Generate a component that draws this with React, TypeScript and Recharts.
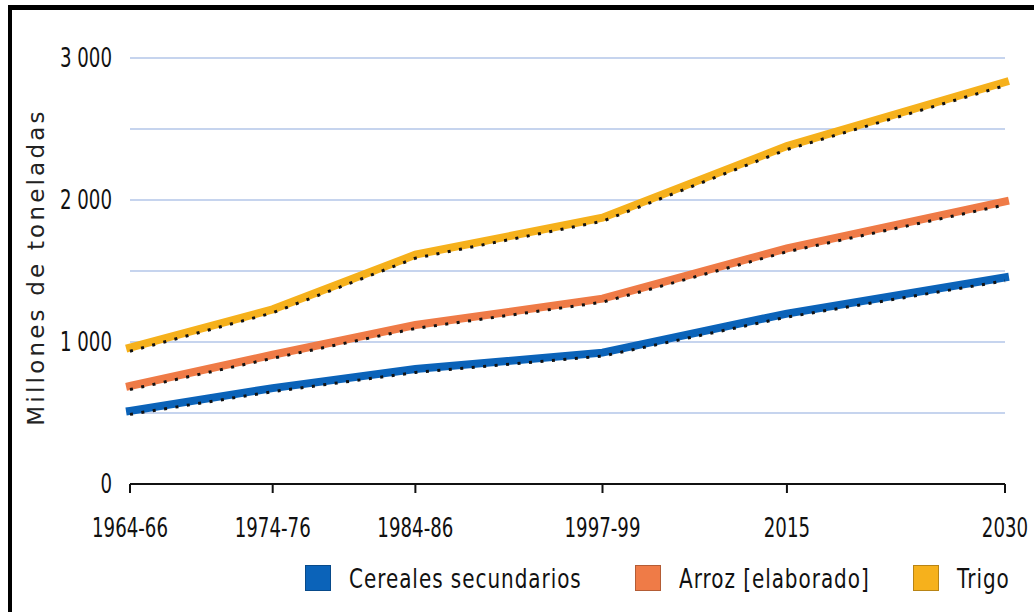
import React from 'react';
import { LineChart, Line, XAxis, YAxis, CartesianGrid } from 'recharts';

// periods shown on the x axis and where they sit along it (the source chart spaces them unevenly)
const periods = ['1964-66', '1974-76', '1984-86', '1997-99', '2015', '2030'];
const periodPosition = [0, 10.6, 21.2, 35.1, 48.8, 65];

// millones de toneladas
const cerealesSecundarios = [515, 675, 810, 925, 1200, 1455];
const arroz = [690, 910, 1120, 1305, 1660, 1990];
const trigo = [960, 1230, 1615, 1875, 2380, 2830];

const yTicks = [0, 500, 1000, 1500, 2000, 2500, 3000];

const series = [
  { key: 'cereales', name: 'Cereales secundarios', color: '#0b63b9', values: cerealesSecundarios },
  { key: 'arroz', name: 'Arroz [elaborado]', color: '#ef7b47', values: arroz },
  { key: 'trigo', name: 'Trigo', color: '#f6b11c', values: trigo },
];

// left edge of each legend entry
const legendLeft = [305, 635, 913];

const data = periods.map((p, i) => {
  const row: Record<string, number | string> = { period: p, pos: periodPosition[i] };
  series.forEach(s => { row[s.key] = s.values[i]; });
  return row;
});

const font = '"DejaVu Sans", sans-serif';

const formatY = (v: number) => (v % 1000 === 0 ? (v === 0 ? '0' : `${v / 1000} 000`) : '');
const formatX = (v: number) => periods[periodPosition.indexOf(v)] ?? '';

// the original uses a condensed face, so squeeze the text horizontally
const XTick = (props: any) => {
  const { x, y, payload } = props;
  return (
    <g transform={`translate(${x},${y})`}>
      <text transform="scale(0.7,1)" textAnchor="middle" dy="0.75em" fill="#111" fontSize={26} fontFamily={font}>
        {formatX(payload.value)}
      </text>
    </g>
  );
};

const YTick = (props: any) => {
  const { x, y, payload } = props;
  const label = formatY(payload.value);
  if (!label) return null;
  return (
    <g transform={`translate(${x},${y})`}>
      <text transform="scale(0.7,1)" textAnchor="end" dy="0.36em" fill="#111" fontSize={26} fontFamily={font}>
        {label}
      </text>
    </g>
  );
};

export default function App() {
  return (
    <div style={{ position: 'relative', width: 1034, height: 612, overflow: 'hidden', background: '#fff' }}>
      <style>{`
        body { margin: 0; }
        .dotted-edge .recharts-curve { transform: translateY(3.5px); }
      `}</style>
      <div style={{ position: 'absolute', left: 8, top: 5, width: 1100, height: 700, borderTop: '5px solid #000', borderLeft: '4px solid #000' }} />
      <div style={{ position: 'absolute', left: 0, top: 0 }}>
        <LineChart width={1034} height={612} data={data} margin={{ top: 58, right: 29, bottom: 68, left: 0 }}>
          <CartesianGrid horizontal vertical={false} stroke="#b3c6e8" strokeWidth={1.6} />
          <XAxis
            dataKey="pos"
            type="number"
            domain={[0, 65]}
            ticks={periodPosition}
            height={60}
            stroke="#111"
            strokeWidth={2}
            tickSize={9}
            tickMargin={24}
            interval={0}
            tick={<XTick />}
          />
          <YAxis
            domain={[0, 3000]}
            ticks={yTicks}
            width={130}
            axisLine={false}
            tickLine={false}
            tickSize={0}
            tickMargin={18}
            interval={0}
            tick={<YTick />}
          />
          {series.map(s => (
            <Line
              key={s.key}
              type="linear"
              dataKey={s.key}
              stroke={s.color}
              strokeWidth={8}
              strokeLinecap="square"
              dot={false}
              isAnimationActive={false}
            />
          ))}
          {series.map(s => (
            <Line
              key={s.key + '-edge'}
              className="dotted-edge"
              type="linear"
              dataKey={s.key}
              stroke="#111"
              strokeWidth={3}
              strokeDasharray="3 8.5"
              dot={false}
              legendType="none"
              isAnimationActive={false}
            />
          ))}
        </LineChart>
      </div>
      <div
        style={{
          position: 'absolute',
          left: 36,
          top: 267,
          transform: 'translate(-50%, -50%) rotate(-90deg)',
          whiteSpace: 'nowrap',
          fontFamily: font,
          fontSize: 23,
          letterSpacing: 3.2,
          color: '#222',
        }}
      >
        Millones de toneladas
      </div>
      {series.map((s, i) => (
        <div
          key={s.key}
          style={{ position: 'absolute', left: legendLeft[i], top: 564, height: 28, display: 'flex', alignItems: 'center', whiteSpace: 'nowrap' }}
        >
          <span style={{ width: 24, height: 24, background: s.color, border: '1px solid rgba(0,0,0,0.25)', marginRight: 18, display: 'inline-block', flex: 'none' }} />
          <span
            style={{
              fontFamily: font,
              fontSize: 27,
              letterSpacing: 1.3,
              color: '#111',
              display: 'inline-block',
              transform: 'scaleX(0.74)',
              transformOrigin: 'left center',
            }}
          >
            {s.name}
          </span>
        </div>
      ))}
    </div>
  );
}
